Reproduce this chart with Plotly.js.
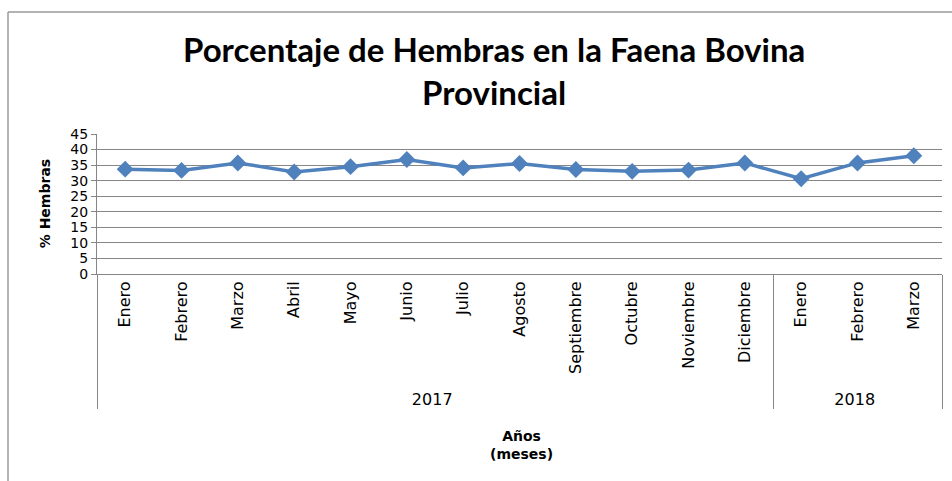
<!DOCTYPE html>
<html>
<head>
<meta charset="utf-8">
<script src="https://cdn.plot.ly/plotly-3.0.1.min.js"></script>
<style>html,body{margin:0;padding:0;background:#fff;}#chart{width:952px;height:481px;}</style>
</head>
<body>
<div id="chart"></div>
<script>
const years = ["2017","2017","2017","2017","2017","2017","2017","2017","2017","2017","2017","2017","2018","2018","2018"];
const months = ["Enero","Febrero","Marzo","Abril","Mayo","Junio","Julio","Agosto","Septiembre","Octubre","Noviembre","Diciembre","Enero","Febrero","Marzo"];
const pctHembras = [33.7, 33.3, 35.7, 32.8, 34.5, 36.8, 34.1, 35.5, 33.6, 33.0, 33.4, 35.7, 30.6, 35.7, 38.0];
const chartTitle = "<b>Porcentaje de Hembras en la Faena Bovina<br>Provincial</b>";
const yTitle = "<b>% Hembras</b>";
const xTitle = "<b>Años<br>(meses)</b>";

const W = 952, H = 481;
const mL = 97, mR = 10, mT = 133.5, mB = 207;
const pw = W - mL - mR, ph = H - mT - mB;
const px = v => (v - mL) / pw;
const py = v => (H - mB - v) / ph;
const axisFont = "'DejaVu Sans', sans-serif";

const trace = {
  type: "scatter",
  mode: "lines+markers",
  x: [years, months],
  y: pctHembras,
  line: {color: "#4F81BD", width: 3.5},
  marker: {symbol: "diamond", size: 13, color: "#4F81BD"},
  cliponaxis: false,
  showlegend: false
};

const layout = {
  width: W, height: H,
  margin: {l: mL, r: mR, t: mT, b: mB, pad: 0},
  paper_bgcolor: "#fff", plot_bgcolor: "#fff",
  font: {family: axisFont, color: "#000"},
  xaxis: {
    type: "multicategory",
    range: [-0.5, 14.5],
    tickangle: -90,
    tickfont: {size: 16, family: axisFont, color: "#000"},
    showgrid: false,
    showline: true, linecolor: "#868686", linewidth: 1,
    showdividers: true, dividercolor: "#868686", dividerwidth: 1,
    ticks: "", automargin: false
  },
  yaxis: {
    range: [0, 45], dtick: 5, tick0: 0,
    tickfont: {size: 14, family: axisFont, color: "#000"},
    showgrid: true, gridcolor: "#868686", gridwidth: 1,
    zeroline: false,
    showline: true, linecolor: "#868686", linewidth: 1,
    ticks: "outside", ticklen: 5, tickcolor: "#868686",
    automargin: false
  },
  annotations: [
    {text: chartTitle, xref: "paper", yref: "paper", x: px(494), y: py(70), xanchor: "center", yanchor: "middle",
     showarrow: false, font: {size: 33, family: "Lato, sans-serif", color: "#000"}},
    {text: yTitle, xref: "paper", yref: "paper", x: px(45), y: py(204), xanchor: "center", yanchor: "middle",
     textangle: -90, showarrow: false, font: {size: 14, family: axisFont, color: "#000"}},
    {text: xTitle, xref: "paper", yref: "paper", x: px(521), y: py(446), xanchor: "center", yanchor: "middle",
     showarrow: false, font: {size: 14, family: axisFont, color: "#000"}}
  ],
  shapes: [
    {type: "line", xref: "paper", yref: "paper", x0: px(8), x1: px(960), y0: py(11), y1: py(11), line: {color: "#9a9a9a", width: 1.5}},
    {type: "line", xref: "paper", yref: "paper", x0: px(8), x1: px(8), y0: py(11), y1: py(490), line: {color: "#9a9a9a", width: 1.5}}
  ]
};

Plotly.newPlot("chart", [trace], layout, {displayModeBar: false, staticPlot: true});
</script>
</body>
</html>
